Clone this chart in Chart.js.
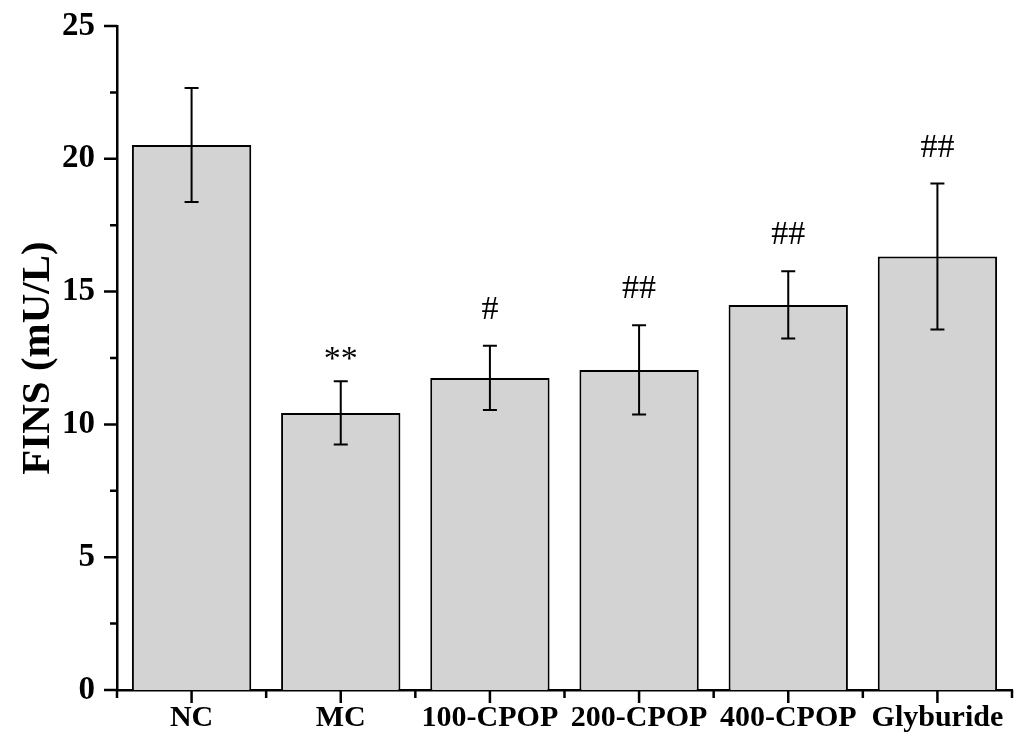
<!DOCTYPE html>
<html>
<head>
<meta charset="utf-8">
<script src="https://cdn.jsdelivr.net/npm/chart.js@4"></script>
<style>
  html, body { margin: 0; padding: 0; background: #fff; }
  #wrap { width: 1024px; height: 746px; }
</style>
</head>
<body>
<div id="wrap"><canvas id="chart" width="1024" height="746"></canvas></div>
<script>
// --- Data ---
const groups = ['NC', 'MC', '100-CPOP', '200-CPOP', '400-CPOP', 'Glyburide'];
const fins = [20.52, 10.43, 11.75, 12.05, 14.50, 16.32];
const finsErr = [2.15, 1.19, 1.21, 1.68, 1.27, 2.75];
const marks = ['', '**', '#', '##', '##', '##'];
const yTicks = [0, 5, 10, 15, 20, 25];

const FONT = '"Liberation Serif", "Times New Roman", serif';

// --- Error bars + significance marks ---
const errorBars = {
    id: 'errorBars',
    afterDatasetsDraw(chart) {
        const ctx = chart.ctx;
        const y = chart.scales.y;
        const meta = chart.getDatasetMeta(0);
        ctx.save();
        ctx.strokeStyle = '#000';
        ctx.lineWidth = 2;
        meta.data.forEach((bar, i) => {
            const top = y.getPixelForValue(fins[i] + finsErr[i]);
            const bot = y.getPixelForValue(fins[i] - finsErr[i]);
            const cap = 7;
            ctx.beginPath();
            ctx.moveTo(bar.x, top); ctx.lineTo(bar.x, bot);
            ctx.moveTo(bar.x - cap, top); ctx.lineTo(bar.x + cap, top);
            ctx.moveTo(bar.x - cap, bot); ctx.lineTo(bar.x + cap, bot);
            ctx.stroke();
            if (marks[i]) {
                ctx.fillStyle = '#000';
                ctx.font = '34px ' + FONT;
                ctx.textAlign = 'center';
                ctx.textBaseline = 'alphabetic';
                const lift = marks[i].includes('*') ? 12 : 27;
                ctx.fillText(marks[i], bar.x, top - lift);
            }
        });
        ctx.restore();
    }
};

// --- Axis tick marks (major + minor) ---
const axisTicks = {
    id: 'axisTicks',
    afterDraw(chart) {
        const ctx = chart.ctx;
        const x = chart.scales.x;
        const y = chart.scales.y;
        const area = chart.chartArea;
        ctx.save();
        ctx.strokeStyle = '#000';
        ctx.lineWidth = 2.5;
        ctx.beginPath();
        // y axis ticks
        y.ticks.forEach(t => {
            const py = y.getPixelForValue(t.value);
            const len = yTicks.includes(t.value) ? 13 : 7;
            ctx.moveTo(area.left, py); ctx.lineTo(area.left - len, py);
        });
        // x axis ticks: major at centers, minor at boundaries
        for (let i = 0; i < groups.length; i++) {
            const px = x.getPixelForValue(i);
            ctx.moveTo(px, area.bottom); ctx.lineTo(px, area.bottom + 13);
        }
        const half = (x.getPixelForValue(1) - x.getPixelForValue(0)) / 2;
        for (let i = 0; i <= groups.length; i++) {
            const px = x.getPixelForValue(i) - half;
            ctx.moveTo(px, area.bottom); ctx.lineTo(px, area.bottom + 8);
        }
        ctx.stroke();
        ctx.restore();
    }
};

new Chart(document.getElementById('chart'), {
    type: 'bar',
    data: {
        labels: groups,
        datasets: [{
            data: fins,
            backgroundColor: '#d3d3d3',
            borderColor: '#000',
            borderWidth: 2,
            categoryPercentage: 0.8,
            barPercentage: 1.0
        }]
    },
    options: {
        responsive: false,
        animation: false,
        devicePixelRatio: 1,
        layout: { padding: { left: 0, right: 12, top: 26, bottom: 0 } },
        plugins: { legend: { display: false }, tooltip: { enabled: false } },
        scales: {
            x: {
                grid: { display: false, drawTicks: false },
                border: { display: true, color: '#000', width: 2.5 },
                ticks: {
                    color: '#000',
                    padding: 10,
                    maxRotation: 0,
                    autoSkip: false,
                    font: { family: FONT, size: 30, weight: 'bold' }
                },
                afterFit: s => {
                    s.height = 56;
                    s.paddingLeft = 0; s.paddingRight = 0;
                }
            },
            y: {
                min: 0,
                max: 25,
                grid: { display: false, drawTicks: false },
                border: { display: true, color: '#000', width: 2.5 },
                ticks: {
                    stepSize: 2.5,
                    color: '#000',
                    padding: 22,
                    font: { family: FONT, size: 33, weight: 'bold' },
                    callback: v => yTicks.includes(v) ? v : ''
                },
                title: {
                    display: true,
                    text: 'FINS (mU/L)',
                    color: '#000',
                    padding: { top: 14, bottom: 0 },
                    font: { family: FONT, size: 41, weight: 'bold' }
                },
                afterFit: s => {
                    s.width = 117;
                    s.paddingTop = 0; s.paddingBottom = 0;
                }
            }
        }
    },
    plugins: [errorBars, axisTicks]
});
</script>
</body>
</html>
